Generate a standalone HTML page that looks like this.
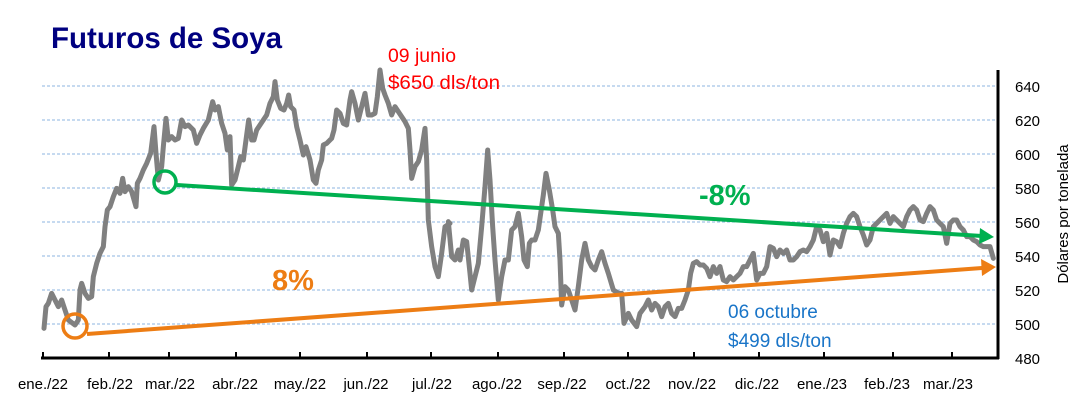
<!DOCTYPE html>
<html><head><meta charset="utf-8"><style>
html,body{margin:0;padding:0;background:#fff;}
svg{display:block;font-family:"Liberation Sans",sans-serif;}
</style></head><body>
<svg width="1070" height="405" viewBox="0 0 1070 405" xmlns="http://www.w3.org/2000/svg">
<g stroke="#8db4e2" stroke-width="1" stroke-dasharray="3,2">
<line x1="42" y1="86" x2="997" y2="86"/><line x1="42" y1="120" x2="997" y2="120"/>
<line x1="42" y1="154" x2="997" y2="154"/><line x1="42" y1="188" x2="997" y2="188"/>
<line x1="42" y1="222" x2="997" y2="222"/><line x1="42" y1="256" x2="997" y2="256"/>
<line x1="42" y1="290" x2="997" y2="290"/><line x1="42" y1="324" x2="997" y2="324"/>
</g>
<g stroke="#000" stroke-width="3" fill="none">
<line x1="41" y1="358" x2="999" y2="358"/>
<line x1="998" y1="70" x2="998" y2="359"/>
</g>
<g stroke="#000" stroke-width="2">
<line x1="43" y1="352" x2="43" y2="358"/><line x1="109" y1="352" x2="109" y2="358"/>
<line x1="169" y1="352" x2="169" y2="358"/><line x1="236" y1="352" x2="236" y2="358"/>
<line x1="300" y1="352" x2="300" y2="358"/><line x1="367" y1="352" x2="367" y2="358"/>
<line x1="431" y1="352" x2="431" y2="358"/><line x1="498" y1="352" x2="498" y2="358"/>
<line x1="564" y1="352" x2="564" y2="358"/><line x1="628" y1="352" x2="628" y2="358"/>
<line x1="694" y1="352" x2="694" y2="358"/><line x1="759" y1="352" x2="759" y2="358"/>
<line x1="824" y1="352" x2="824" y2="358"/><line x1="893" y1="352" x2="893" y2="358"/>
<line x1="952" y1="352" x2="952" y2="358"/>
</g>
<g fill="none" stroke="#808080" stroke-width="5" stroke-linejoin="round" stroke-linecap="round">
<polyline transform="translate(30,60) scale(0.33333)" vector-effect="non-scaling-stroke" points="42,805 48,740 55,730 65,700 75,720 85,740 95,720 105,750 115,780 135,795 145,780 150,690 155,670 165,700 175,715 185,710 190,650 200,610 210,580 220,560 225,500 232,450 240,440 250,410 260,385 270,400 278,355 285,395 295,380 305,395 318,440 322,370 330,355 340,330 350,310 362,280 372,200 378,280 385,360 395,320 400,260 408,175 415,240 425,230 435,240 445,235 455,180 465,200 475,195 490,210 500,250 510,225 520,205 535,180 548,125 555,150 565,140 575,190 585,220 592,270 600,230 605,375 615,360 625,320 632,290 640,300 648,240 656,180 665,240 672,240 680,210 690,195 700,180 710,165 720,130 730,110 735,65 742,120 752,145 762,150 770,130 776,105 782,140 792,150 800,200 810,240 820,285 828,260 840,300 850,360 858,370 865,330 875,300 880,255 890,250 900,240 905,235 912,210 920,150 930,160 940,190 950,195 960,120 965,95 975,130 985,180 995,140 1005,100 1015,165 1025,165 1035,160 1042,110 1050,30 1058,85 1065,105 1075,130 1085,165 1095,140 1105,155 1115,170 1125,185 1135,205 1140,270 1145,355 1155,320 1165,305 1175,270 1185,205 1190,300 1195,480 1205,560 1215,620 1225,650 1235,580 1245,500 1260,490"/>
<polyline transform="translate(400,60) scale(0.33333)" vector-effect="non-scaling-stroke" points="145,485 155,590 165,600 175,570 180,600 190,540 200,545 210,640 215,690 225,650 235,610 245,500 255,380 263,270 270,360 278,500 285,600 295,720 305,650 315,600 325,600 335,510 345,500 355,460 365,530 372,600 382,620 388,550 395,540 405,540 415,510 425,440 430,405 438,340 448,390 458,450 465,500 475,520 480,600 485,735 495,680 505,690 515,720 525,750 535,680 545,600 555,550 565,600 575,620 585,630 595,600 605,575 615,610 625,640 640,690 655,700 665,700 672,790 685,760 695,780 710,800 720,760 735,740 745,720 755,750 765,730 775,740 785,770 795,740 805,730 815,760 825,770 835,745 845,745 855,720 865,690 872,640 880,610 890,605 900,615 910,615 920,625 930,650 940,620 950,640 960,620"/>
<polyline transform="translate(700,60) scale(0.33333)" vector-effect="non-scaling-stroke" points="60,620 70,660 80,665 90,650 100,660 110,650 120,640 130,620 140,620 150,600 160,580 170,660 180,640 190,640 200,620 210,560 220,565 230,590 240,570 250,580 260,570 270,600 280,600 290,590 300,575 310,570 320,575 330,560 340,540 350,500 360,510 370,545 380,520 390,585 400,540 410,545 420,560 430,520 440,490 450,470 460,460 470,470 480,500 490,525 500,555 510,540 520,500 530,490 540,480 550,470 560,460 570,490 580,470 590,480 600,490 610,500 620,470 630,450 640,440 650,450 660,480 670,485 680,460 690,440 700,450 710,480 720,490 730,500 740,550 750,490 760,480 770,480 780,500 790,510 800,530 810,530 820,540 830,545 840,555 850,560 860,560 870,560 880,595"/>
</g>
<g stroke="#00b050" stroke-width="4" fill="none">
<circle cx="165" cy="182" r="11" stroke-width="3.5"/>
<line x1="177" y1="185" x2="982" y2="236"/>
</g>
<polygon points="994,237 980,228 979,244" fill="#00b050"/>
<g stroke="#ed7d14" stroke-width="4" fill="none">
<circle cx="75" cy="326" r="12" stroke-width="3.5"/>
<line x1="87" y1="334" x2="982" y2="268"/>
</g>
<polygon points="996,267 981,259 982,276" fill="#ed7d14"/>
<text x="51" y="48" font-size="30" font-weight="bold" fill="#000080" textLength="231" lengthAdjust="spacingAndGlyphs">Futuros de Soya</text>
<text x="388" y="62" font-size="19" fill="#ff0000" textLength="68" lengthAdjust="spacingAndGlyphs">09 junio</text>
<text x="388" y="89" font-size="19" fill="#ff0000" textLength="112" lengthAdjust="spacingAndGlyphs">$650 dls/ton</text>
<text x="699" y="205" font-size="29" font-weight="bold" fill="#00b050">-8%</text>
<text x="272" y="290" font-size="29" font-weight="bold" fill="#ed7d14">8%</text>
<text x="728" y="318" font-size="19" fill="#1a75c8">06 octubre</text>
<text x="728" y="347" font-size="19" fill="#1a75c8">$499 dls/ton</text>
<g font-size="15" fill="#000">
<text x="1015" y="92">640</text><text x="1015" y="126">620</text>
<text x="1015" y="160">600</text><text x="1015" y="194">580</text>
<text x="1015" y="228">560</text><text x="1015" y="262">540</text>
<text x="1015" y="296">520</text><text x="1015" y="330">500</text>
<text x="1015" y="364">480</text>
</g>
<text transform="translate(1068,214) rotate(-90)" text-anchor="middle" font-size="15" fill="#000">Dólares por tonelada</text>
<g font-size="15" fill="#000" text-anchor="middle">
<text x="43" y="389">ene./22</text><text x="110" y="389">feb./22</text>
<text x="170" y="389">mar./22</text><text x="235" y="389">abr./22</text>
<text x="300" y="389">may./22</text><text x="366" y="389">jun./22</text>
<text x="432" y="389">jul./22</text><text x="497" y="389">ago./22</text>
<text x="562" y="389">sep./22</text><text x="628" y="389">oct./22</text>
<text x="692" y="389">nov./22</text><text x="757" y="389">dic./22</text>
<text x="822" y="389">ene./23</text><text x="887" y="389">feb./23</text>
<text x="948" y="389">mar./23</text>
</g>
</svg>
</body></html>
